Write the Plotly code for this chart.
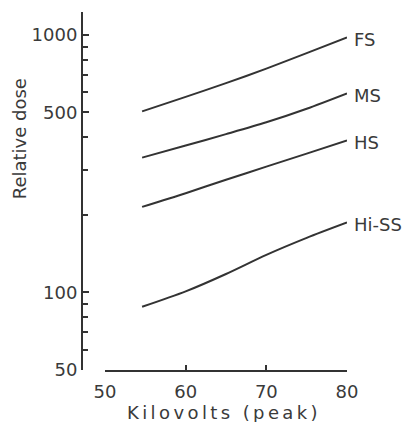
import math
import plotly.graph_objects as go

# ---- data ----
kilovolts = [54.6, 60, 65, 70, 75, 80]
fs_dose = [505, 575, 650, 740, 850, 978]
ms_dose = [334, 372, 412, 458, 517, 593]
hs_dose = [215, 243, 274, 308, 346, 389]
hiss_dose = [88, 101, 118, 140, 163, 187]
series_names = ["FS", "MS", "HS", "Hi-SS"]

x_ticks = [50, 60, 70, 80]
y_ticks = [50, 100, 500, 1000]
y_minor = [60, 70, 80, 90, 200, 300, 400, 600, 700, 800, 900]

INK = "#333333"
TXT = "#3a3a3a"
FONT = "DejaVu Sans"

fig = go.Figure()
all_series = [fs_dose, ms_dose, hs_dose, hiss_dose]
for name, ys in zip(series_names, all_series):
    fig.add_trace(go.Scatter(x=kilovolts, y=ys, mode="lines", name=name,
                             line=dict(color=INK, width=2, shape="spline", smoothing=0.8),
                             showlegend=False, hoverinfo="skip"))
    fig.add_annotation(x=kilovolts[-1], y=math.log10(ys[-1]), xref="x", yref="y",
                       text=name, showarrow=False, xanchor="left", yanchor="middle",
                       xshift=5, yshift=-2,
                       font=dict(family=FONT, size=18, color=TXT))

fig.update_layout(
    width=415, height=422,
    margin=dict(l=82, r=68, t=12, b=52),
    paper_bgcolor="white", plot_bgcolor="white",
    font=dict(family=FONT, size=18, color=TXT),
    xaxis=dict(domain=[23 / 265, 1], range=[50, 80], showgrid=False, zeroline=False,
               showline=True, linecolor=INK, linewidth=1.5,
               ticks="inside", ticklen=5, tickwidth=1.5, tickcolor=INK,
               tickvals=x_ticks, ticktext=[str(v) for v in x_ticks],
               tickfont=dict(family=FONT, size=18, color=TXT), ticklabelstandoff=5),
    yaxis=dict(type="log", range=[math.log10(50), math.log10(1228)], anchor="free", position=0,
               showgrid=False, zeroline=False,
               showline=True, linecolor=INK, linewidth=2,
               ticks="inside", ticklen=6, tickwidth=1.5, tickcolor=INK,
               tickvals=y_ticks, ticktext=[str(v) for v in y_ticks],
               tickfont=dict(family=FONT, size=18, color=TXT),
               minor=dict(tickvals=y_minor, ticks="inside", ticklen=5, tickwidth=1.5, tickcolor=INK)),
)

fig.add_annotation(x=0.5, y=-0.118, xref="paper", yref="paper", showarrow=False,
                   text='<span style="letter-spacing:3.4px">Kilovolts (peak)</span>',
                   xanchor="center", yanchor="middle", xshift=9,
                   font=dict(family=FONT, size=18, color=TXT))
fig.add_annotation(x=-0.237, y=0.645, xref="paper", yref="paper", showarrow=False,
                   text="Relative dose", textangle=-90,
                   xanchor="center", yanchor="middle",
                   font=dict(family=FONT, size=18, color=TXT))

fig.write_html("out.html")
